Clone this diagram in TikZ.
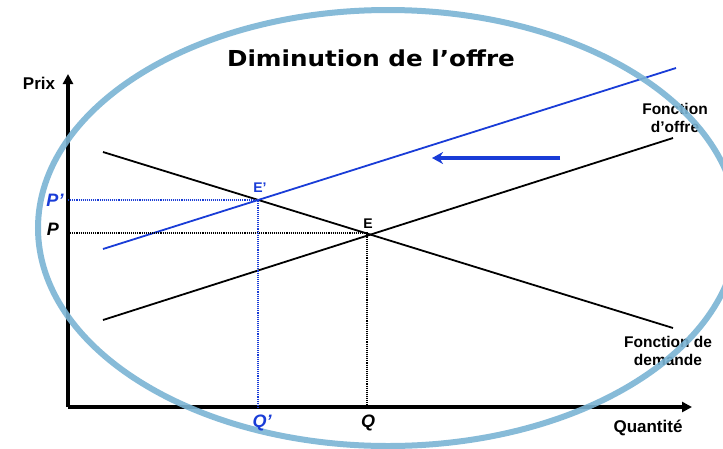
\documentclass[tikz,border=0pt]{standalone}
\usepackage{fontspec}
\setmainfont{Liberation Sans}
\newfontfamily\titlefont{DejaVu Sans}
\usepackage{xcolor}
\usetikzlibrary{arrows.meta,positioning}
\definecolor{supblue}{RGB}{25,60,215}
\definecolor{ovalblue}{RGB}{122,180,212}

\begin{document}
\begin{tikzpicture}[
    x=1pt, y=-1pt,
    axis/.style={line width=3.2pt, -{Triangle[length=10pt, width=10pt]}},
    curve/.style={line width=1.8pt},
    guide/.style={densely dotted, line width=1.1pt},
    lbl/.style={font=\fontsize{15.5}{18}\selectfont\bfseries, align=center, inner sep=0pt},
    tick/.style={font=\fontsize{18}{20}\selectfont\bfseries\itshape, inner sep=0pt},
    pt/.style={font=\fontsize{14}{16}\selectfont\bfseries, inner sep=0pt}
  ]
    \clip (0,0) rectangle (723,448);
    % axes
    \coordinate (o) at (68,407);
    \coordinate (ytop) at (68,74);
    \coordinate (xend) at (692,407);
    \draw[axis] (o) -- (ytop);
    \draw[axis] (o) -- (xend);
    \node[lbl, font=\fontsize{17}{19}\selectfont\bfseries] (prix) at (39,83) {Prix};
    \node[lbl, font=\fontsize{17}{19}\selectfont\bfseries] (quant) at (648,428) {Quantité};
    % curves
    \coordinate (d1) at (103,152);
    \coordinate (d2) at (673,328);
    \coordinate (s1) at (103,320);
    \coordinate (s2) at (673,138);
    \coordinate (n1) at (103,249);
    \coordinate (n2) at (676,68);
    \draw[curve] (d1) -- (d2);
    \draw[curve] (s1) -- (s2);
    \draw[curve, supblue] (n1) -- (n2);
    % equilibria
    \coordinate (eq) at (367,233);
    \coordinate (eqn) at (258,200);
    \coordinate (py) at (68,233);
    \coordinate (pny) at (68,200);
    \coordinate (qx) at (367,407);
    \coordinate (qnx) at (258,407);
    \draw[guide] (py) -- (eq) -- (qx);
    \draw[guide, supblue] (pny) -- (eqn) -- (qnx);
    \node[pt] (elbl) at (368,224) {E};
    \node[pt, supblue] (enlbl) at (260,188) {E'};
    % labels
    \node[lbl] (offre) at (675,118) {Fonction\\d'offre};
    \node[lbl] (demande) at (668,351) {Fonction de\\demande};
    \coordinate (shr) at (560,158);
    \coordinate (shl) at (432,158);
    \draw[supblue, line width=3.2pt, -{Stealth[length=11pt, width=12pt, inset=3.5pt]}] (shr) -- (shl);
    \node[font=\titlefont\fontsize{22}{24}\selectfont\bfseries, inner sep=0pt, xscale=1.12, transform shape] (title) at (371,58) {Diminution de l’offre};
    % oval
    \draw[ovalblue, line width=6pt, opacity=0.9] (388,228) ellipse [x radius=350, y radius=218];
    % axis values
    \node[tick] (plbl) at (53,229) {P};
    \node[tick, supblue] (pnlbl) at (55,200) {P'};
    \node[tick] (qlbl) at (368,423) {Q};
    \node[tick, supblue] (qnlbl) at (262,423) {Q'};
\end{tikzpicture}
\end{document}
